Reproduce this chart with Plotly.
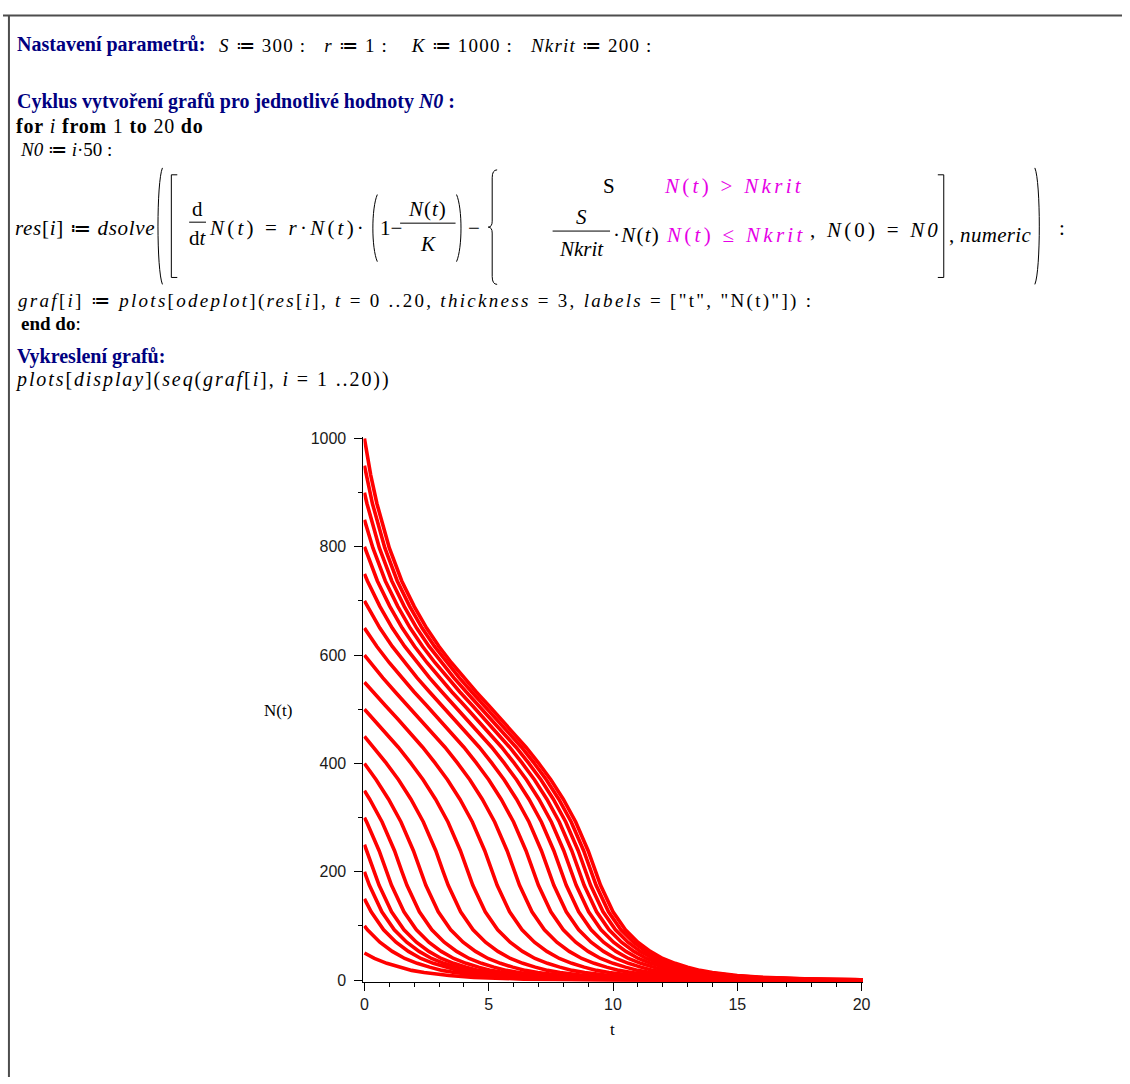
import plotly.graph_objects as go

W, H = 1130, 1084
SERIF = "Liberation Serif, Times New Roman, serif"
SANS = "Liberation Sans, Arial, sans-serif"
NAVY = "#000080"
MAGENTA = "#e600e6"
NB = "\u00a0"

# --- solution curves ---------------------------------------------------------
# Solution started at N0 = 1000 (time, population)
base_t = [0, 0.25, 0.5, 1, 1.5, 2, 2.5, 3, 3.5, 4, 4.5, 5, 5.5, 6, 6.5, 7, 7.5,
          8, 8.5, 9, 9.3, 9.5, 10, 10.5, 11, 11.5, 12, 12.5, 13, 13.5, 14, 15,
          16, 17, 18, 19, 20, 21, 22, 23, 24, 25, 26, 27, 28, 29, 30, 31, 32]
base_n = [1000, 933, 880, 798, 737, 690, 650, 616, 586, 558, 532, 507, 482, 457,
          430, 401, 370, 334, 292, 239, 200, 175, 126, 93, 70, 53, 40, 31, 24,
          18, 14, 8.4, 5.1, 3.1, 1.9, 1.1, 0.7, 0.4, 0.25, 0.15, 0.09, 0.06,
          0.03, 0.02, 0.01, 0.01, 0, 0, 0]

# Initial values N0 = i*50 and how far along the N0 = 1000 solution each one starts
start_values = [50, 100, 150, 200, 250, 300, 350, 400, 450, 500,
                550, 600, 650, 700, 750, 800, 850, 900, 950, 1000]
start_shift = [11.60, 10.38, 9.73, 9.30, 8.91, 8.41, 7.79, 7.03, 6.13, 5.14,
               4.16, 3.26, 2.50, 1.88, 1.38, 0.98, 0.66, 0.40, 0.18, 0.0]

T_MAX = 20

fig = go.Figure()
for n0, shift in zip(start_values, start_shift):
    ts, ns = [0.0], [n0]
    for bt, bn in zip(base_t, base_n):
        if bt <= shift + 1e-9:
            continue
        ts.append(bt - shift)
        ns.append(bn)
        if bt - shift >= T_MAX:
            break
    fig.add_trace(go.Scatter(x=ts, y=ns, mode="lines",
                             line=dict(color="#ff0000", width=3.6),
                             hoverinfo="skip", showlegend=False))

# plot box in page pixels
X0_PX, X1_PX = 364, 868
Y_TOP_PX, Y_BOT_PX = 435.5, 987.5

tickfont = dict(family=SANS, size=16, color="#1a1a1a")
fig.update_xaxes(range=[-0.04, 20.04], domain=[X0_PX / W, X1_PX / W],
                 showgrid=False, zeroline=False, showline=True,
                 linecolor="black", linewidth=1,
                 tickmode="array", tickvals=[0, 5, 10, 15, 20],
                 ticks="outside", ticklen=8, tickcolor="black", tickwidth=1,
                 minor=dict(dtick=1, tick0=0, ticks="outside", ticklen=4,
                            tickcolor="black", tickwidth=1, showgrid=False),
                 tickfont=tickfont)
fig.update_yaxes(range=[-3, 1003], domain=[1 - Y_BOT_PX / H, 1 - Y_TOP_PX / H],
                 showgrid=False, zeroline=False, showline=True,
                 linecolor="black", linewidth=1,
                 tickmode="array", tickvals=[0, 200, 400, 600, 800, 1000],
                 ticks="outside", ticklen=8, tickcolor="black", tickwidth=1,
                 ticklabelstandoff=5,
                 minor=dict(dtick=100, tick0=0, ticks="outside", ticklen=4,
                            tickcolor="black", tickwidth=1, showgrid=False),
                 tickfont=tickfont)

# --- worksheet text -------------------------------------------------------------
anns, shapes = [], []


def px(x):
    return x / W


def py(y):
    return 1 - y / H


def text(x, y, s, size=21, color="black", anchor="left", ls=0, family=SERIF):
    if ls:
        s = f"<span style='letter-spacing:{ls}px'>{s}</span>"
    anns.append(dict(x=px(x), y=py(y), xref="paper", yref="paper", text=s,
                     showarrow=False, xanchor=anchor, yanchor="middle",
                     font=dict(size=size, color=color, family=family)))


def seg(x0, y0, x1, y1, w=1, color="black"):
    shapes.append(dict(type="line", xref="paper", yref="paper",
                       x0=px(x0), y0=py(y0), x1=px(x1), y1=py(y1),
                       line=dict(color=color, width=w)))


def path(cmds, w=1):
    out = []
    for c in cmds:
        if isinstance(c, str):
            out.append(c)
        else:
            out.append(f"{px(c[0]):.5f},{py(c[1]):.5f}")
    shapes.append(dict(type="path", xref="paper", yref="paper", path=" ".join(out),
                       line=dict(color="black", width=w)))


def lparen(x, y0, y1):
    path(["M", (x + 6, y0), "C", (x, y0 + 14), (x, y1 - 14), (x + 6, y1)])


def rparen(x, y0, y1):
    path(["M", (x - 6, y0), "C", (x, y0 + 14), (x, y1 - 14), (x - 6, y1)])


def lbrack(x, y0, y1):
    path(["M", (x + 6, y0), "L", (x, y0), "L", (x, y1), "L", (x + 6, y1)])


def rbrack(x, y0, y1):
    path(["M", (x - 6, y0), "L", (x, y0), "L", (x, y1), "L", (x - 6, y1)])


def lbrace(x, y0, y1):
    ym = (y0 + y1) / 2
    path(["M", (x + 9, y0), "Q", (x + 4, y0), (x + 4, y0 + 8), "L", (x + 4, ym - 6),
          "Q", (x + 4, ym), (x, ym), "Q", (x + 4, ym), (x + 4, ym + 6),
          "L", (x + 4, y1 - 8), "Q", (x + 4, y1), (x + 9, y1)])


# page frame
seg(0, 8.5, W, 8.5, w=2, color="#4d4d4d")
seg(6, 8, 6, H, w=2, color="#4d4d4d")

# parameters
text(12, 38, "<b>Nastavení parametrů:</b>", size=20, color=NAVY)
text(216, 39, f"<i>S</i> ≔ 300 :{NB*3}<i>r</i> ≔ 1 :{NB*4}<i>K</i> ≔ 1000 :{NB*3}"
              f"<i>Nkrit</i> ≔ 200 :", size=19, ls=1.2)

# loop
text(12, 96, "<b>Cyklus vytvoření grafů pro jednotlivé hodnoty <i>N0</i> :</b>",
     size=20, color=NAVY)
text(11, 121, "<b>for</b> <i>i</i> <b>from</b> 1 <b>to</b> 20 <b>do</b>", size=20, ls=0.8)
text(15, 144, "<i>N0</i> ≔ <i>i</i>·50 :", size=19)

# dsolve line
ROW = 224
text(10, ROW, "<i>res</i>[<i>i</i>] ≔ <i>dsolve</i>", ls=0.7)
lparen(155, 163, 281)
lbrack(170, 170, 274)
text(196, 205, "d", anchor="center")
seg(188, 218, 205, 218)
text(197, 234, "d<i>t</i>", anchor="center")
text(206, ROW, f"<i>N</i>(<i>t</i>){NB}={NB}<i>r</i>·<i>N</i>(<i>t</i>)·", ls=3.2)
lparen(372, 190, 258)
text(379, ROW, "1−")
text(429, 205, "<i>N</i>(<i>t</i>)", anchor="center", ls=1)
seg(401, 219, 457, 219)
text(429, 240, "<i>K</i>", anchor="center")
rparen(464, 190, 258)
text(468, ROW, "−")
lbrace(490, 165, 281)
text(612, 181, "S", anchor="center")
text(665, 181, "<i>N</i>(<i>t</i>) > <i>Nkrit</i>", color=MAGENTA, ls=3.3)
text(584, 213, "<i>S</i>", anchor="center")
seg(555, 227, 613, 227)
text(584, 245, "<i>Nkrit</i>", anchor="center")
text(614, 231, "·<i>N</i>(<i>t</i>)", ls=1.2)
text(668, 231, "<i>N</i>(<i>t</i>) ≤ <i>Nkrit</i>", color=MAGENTA, ls=3.3)
text(813, 226, ", <i>N</i>(0) = <i>N0</i>", ls=3.2)
rbrack(950, 170, 274)
text(953, 231, ", <i>numeric</i>", ls=0.3)
rparen(1048, 163, 281)
text(1064, 224, ":")

text(13, 298, "<i>graf</i>[<i>i</i>] ≔ <i>plots</i>[<i>odeplot</i>](<i>res</i>[<i>i</i>], "
              "<i>t</i> = 0 ..20, <i>thickness</i> = 3, <i>labels</i> = [\"t\", \"N(t)\"]) :",
     size=19, ls=2.3)
text(16, 321, "<b>end do</b>:", size=19)

# display
text(12, 354, "<b>Vykreslení grafů:</b>", size=20, color=NAVY)
text(10, 377, "<i>plots</i>[<i>display</i>](<i>seq</i>(<i>graf</i>[<i>i</i>], "
              "<i>i</i> = 1 ..20))", size=20, ls=1.9)

# axis labels
text(278, 713, "N(t)", size=17, anchor="center")
text(615, 1036, "t", size=17, anchor="center")

fig.update_layout(width=W, height=H, margin=dict(l=0, r=0, t=0, b=0),
                  paper_bgcolor="white", plot_bgcolor="white",
                  showlegend=False, annotations=anns, shapes=shapes)

fig.write_html("out.html")
